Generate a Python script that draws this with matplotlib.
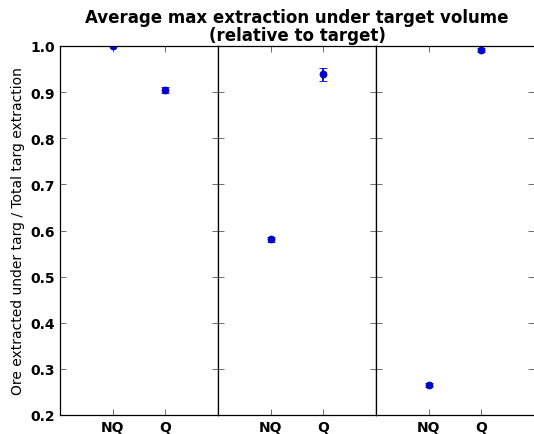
import matplotlib
matplotlib.use("Agg")
import matplotlib.pyplot as plt

# Mean max extraction under target volume, relative to target, per group
groups = ["NQ", "Q"]
means = [
    [1.000, 0.905],
    [0.581, 0.939],
    [0.265, 0.991],
]
errors = [
    [0.001, 0.007],
    [0.005, 0.014],
    [0.004, 0.005],
]

fig = plt.figure(figsize=(5.34, 4.35), dpi=100)
left, bottom = 60 / 534, (435 - 416) / 435
top = (435 - 47) / 435
panel_w = 158 / 534

axes = []
for i in range(3):
    ax = fig.add_axes([left + i * panel_w, bottom, panel_w, top - bottom],
                      sharey=axes[0] if axes else None)
    axes.append(ax)
    ax.errorbar([1, 2], means[i], yerr=errors[i], fmt="o", color="#0000dd",
                markersize=5, capsize=3, elinewidth=1.3, capthick=1.5,
                markeredgecolor="#0000aa", markeredgewidth=0.6)
    ax.set_xlim(0, 3)
    ax.set_ylim(0.2, 1.0)
    ax.set_xticks([1, 2])
    ax.set_xticklabels(groups, fontweight="bold", fontsize=10)
    ax.tick_params(direction="in", top=True, right=True, length=4,
                   width=0.6, color="#555555")
    for sp in ax.spines.values():
        sp.set_linewidth(0.9)
    if i == 0:
        ax.set_yticks([0.2, 0.3, 0.4, 0.5, 0.6, 0.7, 0.8, 0.9, 1.0])
        for lbl in ax.get_yticklabels():
            lbl.set_fontweight("bold")
            lbl.set_fontsize(10)
        ax.set_ylabel("Ore extracted under targ / Total targ extraction",
                      fontsize=10)
    else:
        ax.tick_params(labelleft=False)

# the last panel runs to the figure edge, its right spine falls outside
axes[-1].spines["right"].set_visible(False)

# title centred over the middle panel
cx = left + 1.5 * panel_w
fig.text(cx, 1 - 18 / 435, "Average max extraction under target volume",
         ha="center", va="center", fontsize=12, fontweight="bold")
fig.text(cx, 1 - 36 / 435, "(relative to target)",
         ha="center", va="center", fontsize=12, fontweight="bold")

fig.savefig("out.png", dpi=100, facecolor="white")
